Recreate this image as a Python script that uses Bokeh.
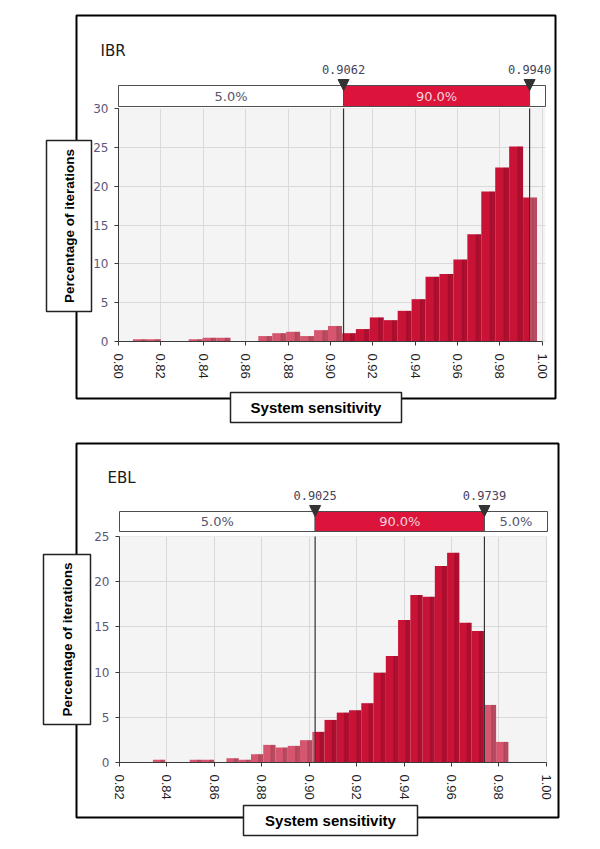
import math
from bokeh.plotting import figure
from bokeh.models import (BoxAnnotation, Label, PolyAnnotation, FixedTicker,
                          PrintfTickFormatter)
from bokeh.layouts import column
from bokeh.embed import file_html
from bokeh.resources import INLINE

# ---------------- data ----------------
x_label = "System sensitivity"
y_label = "Percentage of iterations"

ibr_name = "IBR"
ibr_bin_start = 0.8068
ibr_bin_width = 0.006576
ibr_values = [0.3, 0.3, 0, 0, 0.3, 0.47, 0.47, 0, 0, 0.7, 1.07, 1.25, 0.7, 1.46, 2.0,
              1.07, 1.6, 3.1, 2.75, 3.95, 5.45, 8.33, 8.7, 10.57, 13.8, 19.3, 22.4, 25.1, 18.55]
ibr_low, ibr_high = 0.9062, 0.9940
ibr_band_labels = ["5.0%", "90.0%", ""]
ibr_xticks = [0.80, 0.82, 0.84, 0.86, 0.88, 0.90, 0.92, 0.94, 0.96, 0.98, 1.00]
ibr_yticks = [0, 5, 10, 15, 20, 25, 30]

ebl_name = "EBL"
ebl_bin_start = 0.8341
ebl_bin_width = 0.005169
ebl_values = [0.3, 0, 0, 0.3, 0.3, 0, 0.48, 0.3, 0.92, 1.95, 1.66, 1.84, 2.47, 3.39, 4.71,
              5.52, 5.78, 6.56, 9.94, 11.79, 15.76, 18.53, 18.34, 21.73, 23.2, 15.47, 14.55,
              6.37, 2.28]
ebl_low, ebl_high = 0.9025, 0.9739
ebl_band_labels = ["5.0%", "90.0%", "5.0%"]
ebl_xticks = [0.82, 0.84, 0.86, 0.88, 0.90, 0.92, 0.94, 0.96, 0.98, 1.00]
ebl_yticks = [0, 5, 10, 15, 20, 25]

# ---------------- styles ----------------
BAR_IN = "#c81236"
BAR_OUT = "#d6566f"
BAND_RED = "#dc143c"
TICK_Y_COLOR = "#5a587a"
GRID_COLOR = "#d9d9d9"
PLOT_BG = "#f4f4f4"


def cbox(l, r, t, b, **kw):
    return BoxAnnotation(left=l, right=r, top=t, bottom=b,
                         left_units="canvas", right_units="canvas",
                         top_units="canvas", bottom_units="canvas", **kw)


def make_panel(name, start, width, values, low, high, band_labels, xticks, yticks,
               x_end, W, H, fl, fw, ft, fh, outer, ybox, xbox, name_xy, pct_y,
               tri_top, tri_tip, band_top, band_bottom):
    x0 = xticks[0]
    y0, y1 = yticks[0], yticks[-1]
    # the frame spans the whole canvas; the plot rectangle sits at (fl, ft, fw, fh)
    kx = fw / (x_end - x0)
    ky = fh / (y1 - y0)
    xr = (x0 - fl / kx, x0 + (W - fl) / kx)
    yr = (y0 - (H - ft - fh) / ky, y1 + ft / ky)

    p = figure(width=W, height=H, x_range=xr, y_range=yr,
               output_backend="svg", toolbar_location=None, min_border=0)
    p.title.visible = False
    p.background_fill_color = "white"
    p.border_fill_color = "white"
    p.outline_line_color = None

    # plot-area background (below the grid)
    p.add_layout(BoxAnnotation(left=x0, right=x_end, bottom=y0, top=y1,
                               fill_color=PLOT_BG, fill_alpha=1, line_color=None,
                               level="image"))

    # axes placed at fixed data locations inside the frame
    p.xaxis.fixed_location = y0
    p.yaxis.fixed_location = x0
    p.xaxis.ticker = FixedTicker(ticks=xticks)
    p.xaxis.formatter = PrintfTickFormatter(format="%.2f")
    p.xaxis.bounds = (xticks[0], xticks[-1])
    p.xaxis.major_label_orientation = "vertical"
    p.xaxis.major_label_text_font = "Liberation Sans"
    p.xaxis.major_label_text_font_size = "13px"
    p.xaxis.major_label_text_color = "#1e1e1e"
    p.xaxis.major_label_standoff = 8
    p.yaxis.ticker = FixedTicker(ticks=yticks)
    p.yaxis.bounds = (y0, y1)
    p.yaxis.major_label_text_font = "DejaVu Sans"
    p.yaxis.major_label_text_font_size = "12px"
    p.yaxis.major_label_text_color = TICK_Y_COLOR
    p.yaxis.major_label_standoff = 6
    for ax in (p.xaxis, p.yaxis):
        ax.axis_line_color = "#3a3a3a"
        ax.major_tick_line_color = "#3a3a3a"
        ax.major_tick_out = 4
        ax.major_tick_in = 0
        ax.minor_tick_line_color = None
    p.xgrid.grid_line_color = GRID_COLOR
    p.ygrid.grid_line_color = GRID_COLOR

    # white masks so the grid shows only inside the plot rectangle
    for l, r, b, t in ((xr[0], x0, yr[0], yr[1]), (x_end, xr[1], yr[0], yr[1]),
                       (xr[0], xr[1], y1, yr[1]), (xr[0], xr[1], yr[0], y0)):
        p.add_layout(BoxAnnotation(left=l, right=r, bottom=b, top=t, fill_color="white",
                                   fill_alpha=1, line_color=None, level="underlay"))

    # bars, split at the percentile delimiters
    L, R, T, C = [], [], [], []
    SL, SR, ST = [], [], []
    for i, v in enumerate(values):
        if v <= 0:
            continue
        a = start + i * width
        b = a + width
        cuts = [a] + [c for c in (low, high) if a < c < b] + [b]
        for c0, c1 in zip(cuts[:-1], cuts[1:]):
            mid = 0.5 * (c0 + c1)
            L.append(c0); R.append(c1); T.append(v)
            C.append(BAR_IN if low <= mid <= high else BAR_OUT)
        SL.append(b - 0.4 * width); SR.append(b); ST.append(v)
    p.quad(left=L, right=R, bottom=0, top=T, fill_color=C, line_color=None)
    p.quad(left=SL, right=SR, bottom=0, top=ST, fill_color="black", fill_alpha=0.13,
           line_color=None)
    p.quad(left=[s - 0.4 * width for s in SR], right=[s - 0.25 * width for s in SR],
           bottom=0, top=ST, fill_color="black", fill_alpha=0.05, line_color=None)

    # delimiter lines
    p.segment(x0=[low, high], y0=[y0, y0], x1=[low, high], y1=[y1, y1],
              line_color="#333333", line_width=1.2)

    # outer frame box
    p.add_layout(cbox(*outer, fill_alpha=0, line_color="black", line_alpha=1,
                      line_width=2, level="overlay"))

    # band
    segs = [(x0, low, "white", band_labels[0], "#55556e"),
            (low, high, BAND_RED, band_labels[1], "#f7d3db"),
            (high, x_end, "white", band_labels[2], "#55556e")]
    for s0, s1, fc, txt, tc in segs:
        p.add_layout(BoxAnnotation(left=s0, right=s1, top=band_top, bottom=band_bottom,
                                   top_units="canvas", bottom_units="canvas",
                                   fill_color=fc, fill_alpha=1, line_color="#4d4d4d",
                                   line_alpha=1, line_width=1, level="overlay"))
        if txt:
            p.add_layout(Label(x=0.5 * (s0 + s1), y=0.5 * (band_top + band_bottom),
                               y_units="canvas", text=txt, text_align="center",
                               text_baseline="middle", text_font="DejaVu Sans",
                               text_font_size="13px", text_color=tc, level="overlay"))

    # percentile labels and markers
    hw = 5.5 / kx
    for c in (low, high):
        p.add_layout(Label(x=c, y=pct_y, y_units="canvas", text=f"{c:.4f}",
                           text_align="center", text_baseline="middle",
                           text_font="DejaVu Sans Mono", text_font_size="12px",
                           text_color="#44445a", level="overlay"))
        p.add_layout(PolyAnnotation(xs=[c - hw, c + hw, c], ys=[tri_top, tri_top, tri_tip],
                                    xs_units="data", ys_units="canvas",
                                    fill_color="#333333", fill_alpha=1,
                                    line_color="#333333", line_alpha=1, level="overlay"))

    # panel name
    p.add_layout(Label(x=name_xy[0], y=name_xy[1], x_units="canvas", y_units="canvas",
                       text=name, text_font="DejaVu Sans", text_font_size="15px",
                       text_color="#1a1a1a", text_baseline="alphabetic", level="overlay"))

    # axis title boxes
    for (bl, br, bt, bb), txt, ang, fs in ((ybox, y_label, math.pi / 2, "13.5px"),
                                           (xbox, x_label, 0, "15px")):
        p.add_layout(cbox(bl, br, bt, bb, fill_color="white", fill_alpha=1,
                          line_color="#222222", line_alpha=1, line_width=1.5,
                          level="overlay"))
        p.add_layout(Label(x=0.5 * (bl + br), y=0.5 * (bt + bb), x_units="canvas",
                           y_units="canvas", text=txt, angle=ang, text_align="center",
                           text_baseline="middle", text_font="Liberation Sans",
                           text_font_style="bold", text_font_size=fs, text_color="black",
                           level="overlay"))
    return p


p1 = make_panel(ibr_name, ibr_bin_start, ibr_bin_width, ibr_values, ibr_low, ibr_high,
                ibr_band_labels, ibr_xticks, ibr_yticks, 1.0015,
                W=592, H=430, fl=118, fw=427, ft=108, fh=233,
                outer=(76, 555, 15, 398), ybox=(46, 91, 140, 311), xbox=(230, 401, 392, 422),
                name_xy=(100, 50), pct_y=69, tri_top=79, tri_tip=90,
                band_top=85, band_bottom=106)
p2 = make_panel(ebl_name, ebl_bin_start, ebl_bin_width, ebl_values, ebl_low, ebl_high,
                ebl_band_labels, ebl_xticks, ebl_yticks, 1.0005,
                W=592, H=415, fl=119, fw=428, ft=106, fh=226,
                outer=(76, 558, 13, 387), ybox=(43, 90, 124, 294), xbox=(243, 417, 375, 405),
                name_xy=(107, 47), pct_y=65, tri_top=75, tri_tip=86,
                band_top=81, band_bottom=101)

layout = column(p1, p2, spacing=0)
open("out.html", "w").write(file_html(layout, INLINE))
